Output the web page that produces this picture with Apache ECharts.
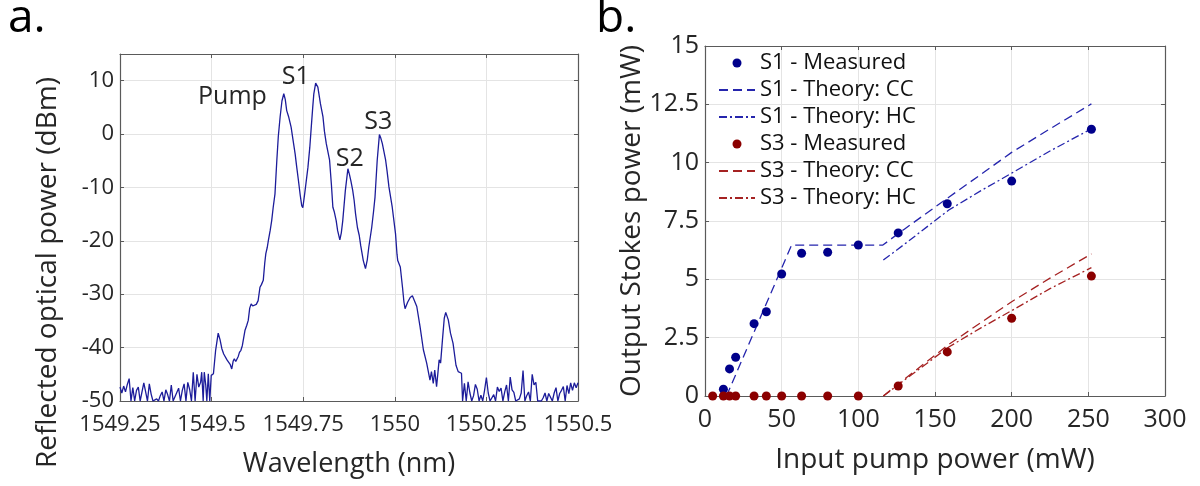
<!DOCTYPE html>
<html>
<head>
<meta charset="utf-8">
<script src="https://cdn.jsdelivr.net/npm/echarts@6/dist/echarts.min.js"></script>
<style>
html,body{margin:0;padding:0;background:#fff;}
#chart{width:1200px;height:486px;}
</style>
</head>
<body>
<div id="chart"></div>
<script>
// ---------- Panel a: reflected spectrum [wavelength nm, power dBm] ----------
const spectrum = [
[1549.250,-47.4],[1549.255,-48.5],[1549.260,-47.2],[1549.265,-48.3],[1549.270,-46.9],[1549.275,-45.8],
[1549.280,-50],[1549.285,-47.5],[1549.290,-50],[1549.295,-48.0],[1549.300,-47.4],[1549.305,-50],
[1549.310,-50],[1549.315,-46.6],[1549.320,-48.3],[1549.325,-50],[1549.330,-46.8],[1549.335,-48.7],
[1549.340,-50],[1549.345,-50],[1549.350,-49.6],[1549.355,-50],[1549.360,-49.0],[1549.365,-48.3],
[1549.370,-50],[1549.375,-47.9],[1549.380,-48.8],[1549.385,-50],[1549.390,-47.0],[1549.395,-50],
[1549.400,-50],[1549.405,-48.4],[1549.410,-47.6],[1549.415,-50],[1549.420,-48.0],[1549.425,-46.8],
[1549.430,-50],[1549.435,-46.5],[1549.440,-47.8],[1549.445,-50],[1549.450,-44.6],[1549.455,-50],
[1549.460,-45.0],[1549.465,-47.4],[1549.470,-46.5],[1549.473,-44.6],[1549.477,-50],[1549.480,-44.6],
[1549.484,-47.0],[1549.487,-50],[1549.491,-44.9],[1549.495,-50],[1549.499,-45.2],[1549.505,-44.9],
[1549.511,-40.5],[1549.518,-37.3],[1549.523,-38.5],[1549.528,-40.2],[1549.533,-41.2],[1549.537,-41.5],
[1549.542,-42.3],[1549.546,-42.1],[1549.551,-43.2],[1549.555,-44.0],[1549.559,-42.5],[1549.562,-42.1],
[1549.566,-42.6],[1549.569,-42.7],[1549.573,-41.6],[1549.576,-40.9],[1549.580,-40.5],[1549.584,-39.6],
[1549.587,-39.3],[1549.591,-36.8],[1549.596,-35.8],[1549.600,-34.9],[1549.604,-32.6],[1549.608,-31.8],
[1549.612,-32.2],[1549.617,-32.5],[1549.622,-31.9],[1549.627,-31.2],[1549.632,-28.7],[1549.636,-28.2],
[1549.641,-27.4],[1549.645,-24.2],[1549.648,-22.4],[1549.652,-21.2],[1549.655,-19.9],[1549.660,-18.0],
[1549.664,-16.2],[1549.668,-13.8],[1549.673,-11.2],[1549.678,-4.95],[1549.682,-0.5],[1549.687,3.2],
[1549.692,6.2],[1549.697,7.55],[1549.701,6.5],[1549.705,4.4],[1549.710,3.3],[1549.717,1.3],
[1549.722,-1.0],[1549.728,-3.7],[1549.732,-6.0],[1549.737,-8.7],[1549.742,-11.5],[1549.746,-13.4],
[1549.749,-13.8],[1549.754,-11.2],[1549.763,-6.2],[1549.768,-2.5],[1549.772,1.3],[1549.776,5.0],
[1549.779,7.55],[1549.784,9.56],[1549.790,8.8],[1549.797,5.7],[1549.804,3.2],[1549.808,0.5],
[1549.813,-1.8],[1549.822,-4.9],[1549.827,-9.5],[1549.831,-13.7],[1549.835,-14.6],[1549.840,-16.2],
[1549.844,-18.1],[1549.850,-19.8],[1549.854,-18.5],[1549.858,-16.2],[1549.865,-10.6],[1549.872,-6.5],
[1549.876,-7.5],[1549.880,-8.7],[1549.885,-10.5],[1549.889,-12.4],[1549.893,-15.0],[1549.898,-17.5],
[1549.903,-19.0],[1549.907,-20.9],[1549.914,-23.7],[1549.920,-25.2],[1549.925,-23.5],[1549.929,-21.2],
[1549.937,-17.5],[1549.942,-14.5],[1549.946,-11.8],[1549.952,-4.9],[1549.958,-0.1],[1549.962,-0.8],
[1549.966,-1.8],[1549.975,-4.9],[1549.979,-7.0],[1549.984,-9.9],[1549.993,-13.7],[1550.002,-18.7],
[1550.006,-22.5],[1550.008,-23.7],[1550.015,-24.9],[1550.021,-28.7],[1550.025,-31.5],[1550.028,-32.7],
[1550.031,-32.9],[1550.035,-31.5],[1550.042,-30.6],[1550.048,-30.3],[1550.052,-30.4],[1550.060,-32.3],
[1550.069,-36.1],[1550.078,-40.4],[1550.087,-42.9],[1550.091,-43.2],[1550.096,-46.1],[1550.100,-44.5],
[1550.105,-46.7],[1550.109,-44.2],[1550.114,-47.3],[1550.118,-44.5],[1550.121,-42.3],[1550.125,-42.9],
[1550.130,-38.6],[1550.135,-34.5],[1550.139,-33.4],[1550.146,-34.8],[1550.152,-37.3],[1550.159,-39.2],
[1550.167,-43.3],[1550.173,-44.5],[1550.177,-44.2],[1550.182,-44.8],[1550.185,-50],
[1550.190,-46.7],[1550.195,-50],[1550.200,-46.4],[1550.205,-48.5],[1550.210,-50],[1550.215,-49.0],
[1550.220,-46.9],[1550.225,-47.8],[1550.230,-50],[1550.235,-48.9],[1550.240,-50],[1550.245,-48.0],
[1550.250,-45.6],[1550.255,-48.5],[1550.260,-50],[1550.265,-50],[1550.270,-48.8],[1550.275,-50],
[1550.280,-47.4],[1550.285,-48.2],[1550.290,-47.6],[1550.295,-50],[1550.300,-48.3],[1550.305,-47.0],
[1550.310,-50],[1550.315,-45.5],[1550.320,-47.9],[1550.325,-48.4],[1550.330,-50],[1550.335,-50],
[1550.340,-49.6],[1550.345,-48.5],[1550.350,-44.3],[1550.355,-50],[1550.360,-49.0],[1550.365,-48.3],
[1550.370,-50],[1550.375,-45.0],[1550.380,-47.0],[1550.385,-46.5],[1550.390,-50],[1550.395,-50],
[1550.400,-50],[1550.405,-49.4],[1550.410,-48.5],[1550.415,-50],[1550.420,-48.6],[1550.425,-48.3],
[1550.430,-50],[1550.435,-48.5],[1550.440,-47.5],[1550.445,-50],[1550.450,-48.6],[1550.455,-48.0],
[1550.460,-47.3],[1550.465,-50],[1550.470,-47.1],[1550.475,-48.6],[1550.480,-46.6],[1550.485,-48.0],
[1550.490,-46.6],[1550.495,-47.5],[1550.500,-46.6]
];
// peak annotations [name, wavelength, dBm]
const peakLabels = [["Pump",1549.557,7.05],["S1",1549.730,10.8],["S2",1549.877,-4.6],["S3",1549.955,2.25]];

// ---------- Panel b: Stokes output vs pump power ----------
const pumpS1 = [12,16,20,32,40,50,63,80,100,126,158,200,252];
const s1Measured = [0.29,1.16,1.66,3.1,3.61,5.23,6.12,6.16,6.47,6.99,8.24,9.21,11.43];
const pumpS3 = [5,12,16,20,32,40,50,63,80,100,126,158,200,252];
const s3Measured = [0,0,0,0,0,0,0,0,0,0,0.43,1.89,3.33,5.14];
const pumpS1CC = [14,56.5,116,130,159,180,200,225,252];
const s1TheoryCC = [0,6.47,6.47,7.15,8.52,9.5,10.44,11.45,12.52];
const pumpTheoryHC = [116.3,130,159,180,200,225,252];
const s1TheoryHC = [5.83,6.5,7.97,8.8,9.55,10.5,11.45];
const pumpS3Theory = [116.3,130,159,180,200,225,252];
const s3TheoryCC = [0,0.72,2.21,3.15,4.04,5.05,6.09];
const s3TheoryHC = [0,0.68,2.1,2.92,3.66,4.6,5.5];
const seriesNames = ["S1 - Measured","S1 - Theory: CC","S1 - Theory: HC","S3 - Measured","S3 - Theory: CC","S3 - Theory: HC"];

const zip = (xs, ys) => xs.map((x, i) => [x, ys[i]]);

const FONT = "'Open Sans', 'Noto Sans', sans-serif";
const TXT = '#262626';
const AXC = '#5a5a5a';
const GRIDC = '#e4e4e4';
const BLUE_M = '#00008b', BLUE_L = '#2525ad';
const RED_M = '#8b0000', RED_L = '#a52222';
const DASH = [9, 5];
const DASHDOT = [8, 3, 2, 3];

function fmt(v){ return String(+v.toFixed(2)); }

function mainX(grid, min, max, step, name, gap, tickFont, nameFont, margin){
  return {
    gridIndex: grid, type: 'value', min, max, interval: step, position: 'bottom',
    name, nameLocation: 'middle', nameGap: gap,
    nameTextStyle: {fontFamily: FONT, fontSize: nameFont, color: TXT},
    axisLine: {show: true, onZero: false, lineStyle: {color: AXC, width: 1.2}},
    axisTick: {show: true, inside: true, length: 4, lineStyle: {color: AXC}},
    axisLabel: {fontFamily: FONT, fontSize: tickFont, color: TXT, margin: margin, formatter: fmt},
    splitLine: {show: true, lineStyle: {color: GRIDC, width: 1}}
  };
}
function mirrorX(grid, min, max, step){
  return {
    gridIndex: grid, type: 'value', min, max, interval: step, position: 'top',
    axisLine: {show: true, onZero: false, lineStyle: {color: AXC, width: 1.2}},
    axisTick: {show: true, inside: true, length: 4, lineStyle: {color: AXC}},
    axisLabel: {show: false}, splitLine: {show: false}
  };
}
function mainY(grid, min, max, step, name, gap, tickFont, nameFont, namePad){
  return {
    gridIndex: grid, type: 'value', min, max, interval: step, position: 'left',
    name, nameLocation: 'middle', nameGap: gap,
    nameTextStyle: {fontFamily: FONT, fontSize: nameFont, color: TXT, padding: namePad},
    axisLine: {show: true, onZero: false, lineStyle: {color: AXC, width: 1.2}},
    axisTick: {show: true, inside: true, length: 4, lineStyle: {color: AXC}},
    axisLabel: {fontFamily: FONT, fontSize: tickFont, color: TXT, margin: 6, formatter: fmt, showMaxLabel: (max % step === 0)},
    splitLine: {show: true, lineStyle: {color: GRIDC, width: 1}}
  };
}
function mirrorY(grid, min, max, step){
  return {
    gridIndex: grid, type: 'value', min, max, interval: step, position: 'right',
    axisLine: {show: true, onZero: false, lineStyle: {color: AXC, width: 1.2}},
    axisTick: {show: true, inside: true, length: 4, lineStyle: {color: AXC}},
    axisLabel: {show: false}, splitLine: {show: false}
  };
}

const chart = echarts.init(document.getElementById('chart'), null, {renderer: 'canvas'});
const hiddenSymbol = {color: 'rgba(0,0,0,0)', borderWidth: 0};
const option = {
  animation: false,
  backgroundColor: '#fff',
  textStyle: {fontFamily: FONT},
  graphic: [
    {type: 'text', left: 8, top: -4, style: {text: 'a.', font: '46px ' + FONT, fill: '#000'}},
    {type: 'text', left: 596, top: -4, style: {text: 'b.', font: '46px ' + FONT, fill: '#000'}}
  ],
  grid: [
    {left: 120, top: 54, width: 458, height: 347},
    {left: 705, top: 46, width: 460, height: 350}
  ],
  xAxis: [
    mainX(0, 1549.25, 1550.5, 0.25, 'Wavelength (nm)', 50, 22, 27, 13),
    mirrorX(0, 1549.25, 1550.5, 0.25),
    mainX(1, 0, 300, 50, 'Input pump power (mW)', 50, 25, 28, 11),
    mirrorX(1, 0, 300, 50)
  ],
  yAxis: [
    mainY(0, -50, 15, 10, 'Reflected optical power (dBm)', 58, 22, 28, [0, 90, 0, 0]),
    mirrorY(0, -50, 15, 10),
    mainY(1, 0, 15, 2.5, 'Output Stokes power (mW)', 51, 25, 28, 0),
    mirrorY(1, 0, 15, 2.5)
  ],
  legend: {
    data: seriesNames.map((n, i) => (i % 3 === 0 ? {name: n} : {name: n, itemStyle: hiddenSymbol})),
    orient: 'vertical', left: 713, top: 47,
    itemWidth: 36, itemHeight: 9, itemGap: 5,
    textStyle: {fontFamily: FONT, fontSize: 22, color: '#111', lineHeight: 22},
    selectedMode: false
  },
  series: [
    {
      name: 'spectrum', type: 'line', xAxisIndex: 0, yAxisIndex: 0,
      data: spectrum, symbol: 'none', showSymbol: false,
      lineStyle: {color: '#1c1c9a', width: 1.3}, clip: true,
      markPoint: {
        symbol: 'circle', symbolSize: 1, itemStyle: {color: 'rgba(0,0,0,0)'},
        label: {show: true, position: 'inside', formatter: '{b}', fontFamily: FONT, fontSize: 25, color: TXT},
        data: peakLabels.map(p => ({name: p[0], coord: [p[1], p[2]]}))
      }
    },
    {
      name: seriesNames[0], type: 'scatter', xAxisIndex: 2, yAxisIndex: 2,
      data: zip(pumpS1, s1Measured), symbol: 'circle', symbolSize: 9,
      itemStyle: {color: BLUE_M, opacity: 1}, z: 5
    },
    {
      name: seriesNames[1], type: 'line', xAxisIndex: 2, yAxisIndex: 2,
      data: zip(pumpS1CC, s1TheoryCC), symbol: 'none',
      lineStyle: {color: BLUE_L, width: 1.3, type: DASH}, itemStyle: {color: BLUE_L}
    },
    {
      name: seriesNames[2], type: 'line', xAxisIndex: 2, yAxisIndex: 2,
      data: zip(pumpTheoryHC, s1TheoryHC), symbol: 'none',
      lineStyle: {color: BLUE_L, width: 1.3, type: DASHDOT}, itemStyle: {color: BLUE_L}
    },
    {
      name: seriesNames[3], type: 'scatter', xAxisIndex: 2, yAxisIndex: 2,
      data: zip(pumpS3, s3Measured), symbol: 'circle', symbolSize: 9,
      itemStyle: {color: RED_M, opacity: 1}, z: 5, clip: false
    },
    {
      name: seriesNames[4], type: 'line', xAxisIndex: 2, yAxisIndex: 2,
      data: zip(pumpS3Theory, s3TheoryCC), symbol: 'none',
      lineStyle: {color: RED_L, width: 1.3, type: DASH}, itemStyle: {color: RED_L}
    },
    {
      name: seriesNames[5], type: 'line', xAxisIndex: 2, yAxisIndex: 2,
      data: zip(pumpS3Theory, s3TheoryHC), symbol: 'none',
      lineStyle: {color: RED_L, width: 1.3, type: DASHDOT}, itemStyle: {color: RED_L}
    }
  ]
};
chart.setOption(option);
</script>
</body>
</html>
